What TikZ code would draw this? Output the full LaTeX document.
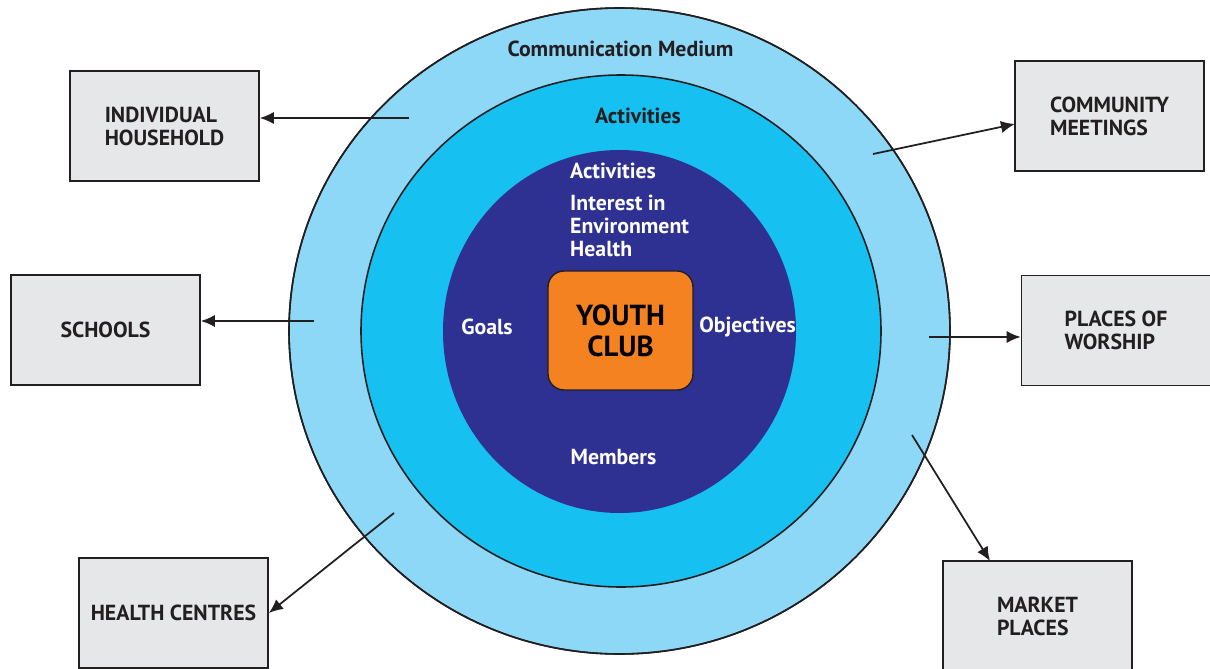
\documentclass[tikz,border=0pt]{standalone}
\usepackage{fontspec}
\setmainfont{PT Sans}
\usetikzlibrary{arrows.meta}
\definecolor{outerblue}{HTML}{8ED8F7}
\definecolor{midblue}{HTML}{16C0F1}
\definecolor{innerblue}{HTML}{2E3192}
\definecolor{clubor}{HTML}{F58220}
\definecolor{boxgray}{HTML}{E6E7E8}
\definecolor{txtdark}{HTML}{231F20}
\begin{document}
\begin{tikzpicture}[x=0.02cm,y=-0.02cm,
    place/.style={draw=txtdark,fill=boxgray,line width=1pt,minimum width=3.78cm,minimum height=2.2cm,
      align=left,text=txtdark,font=\bfseries\fontsize{12.4}{13}\selectfont},
    ring/.style={draw=txtdark,line width=0.9pt},
    lbl/.style={font=\bfseries\fontsize{12.4}{13}\selectfont},
    link/.style={->,>={Latex[length=8pt,width=7pt]},line width=1pt,draw=txtdark}]
                \clip (0,0) rectangle (1210,669);
                % rings
                \fill[ring,fill=outerblue] (619.5,331) ellipse [x radius=330.5,y radius=323];
                \filldraw[ring,fill=midblue] (621,331) ellipse [x radius=260,y radius=256];
                \fill[innerblue] (619.5,331.5) ellipse [x radius=176.5,y radius=181.5];
                \draw[ring] (619.5,331) ellipse [x radius=330.5,y radius=323];
                \node[lbl,text=txtdark](CMED) at (620.5,49) {Communication Medium};
                \node[lbl,text=txtdark](ACT) at (638,116) {Activities};
                \node[lbl,text=white,anchor=west](ACT2) at (564,171) {Activities};
                \node[lbl,text=white,anchor=west,align=left](INT) at (564,226) {Interest in\\Environment\\Health};
                \node[lbl,text=white](G) at (487,327) {Goals};
                \node[lbl,text=white](OBJ) at (747.5,327) {Objectives};
                \node[lbl,text=white](MEM) at (613.5,457) {Members};
                \node[draw=txtdark,fill=clubor,rounded corners=0.32cm,line width=0.8pt,minimum width=2.9cm,minimum height=2.38cm,
                  align=center,font=\bfseries\fontsize{16.5}{17.6}\selectfont](YC) at (620.5,330.5) {YOUTH\\CLUB};
                % outlets
                \node[place](HH) at (164.5,126) {INDIVIDUAL\\HOUSEHOLD};
                \node[place](SCH) at (105.5,330) {SCHOOLS};
                \node[place](HC) at (173.5,613) {HEALTH CENTRES};
                \node[place](CM) at (1109.5,116) {COMMUNITY\\MEETINGS};
                \node[place](PW) at (1116,330.5) {PLACES OF\\WORSHIP};
                \node[place](MP) at (1037.5,616) {MARKET\\PLACES};
                % arrow starts
                \coordinate (sHH) at (409,118);
                \coordinate (sSCH) at (314,321);
                \coordinate (sHC) at (394,513);
                \coordinate (sCM) at (873,154);
                \coordinate (sPW) at (929,337);
                \coordinate (sMP) at (912,435);
                \draw[link] (sHH) -- (sHH -| HH.east);
                \draw[link] (sSCH) -- (sSCH -| SCH.east);
                \draw[link] (sHC) -- (HC.east);
                \draw[link] (sCM) -- (1015,124);
                \draw[link] (sPW) -- (sPW -| PW.west);
                \draw[link] (sMP) -- (990,561);
            \end{tikzpicture}
\end{document}
